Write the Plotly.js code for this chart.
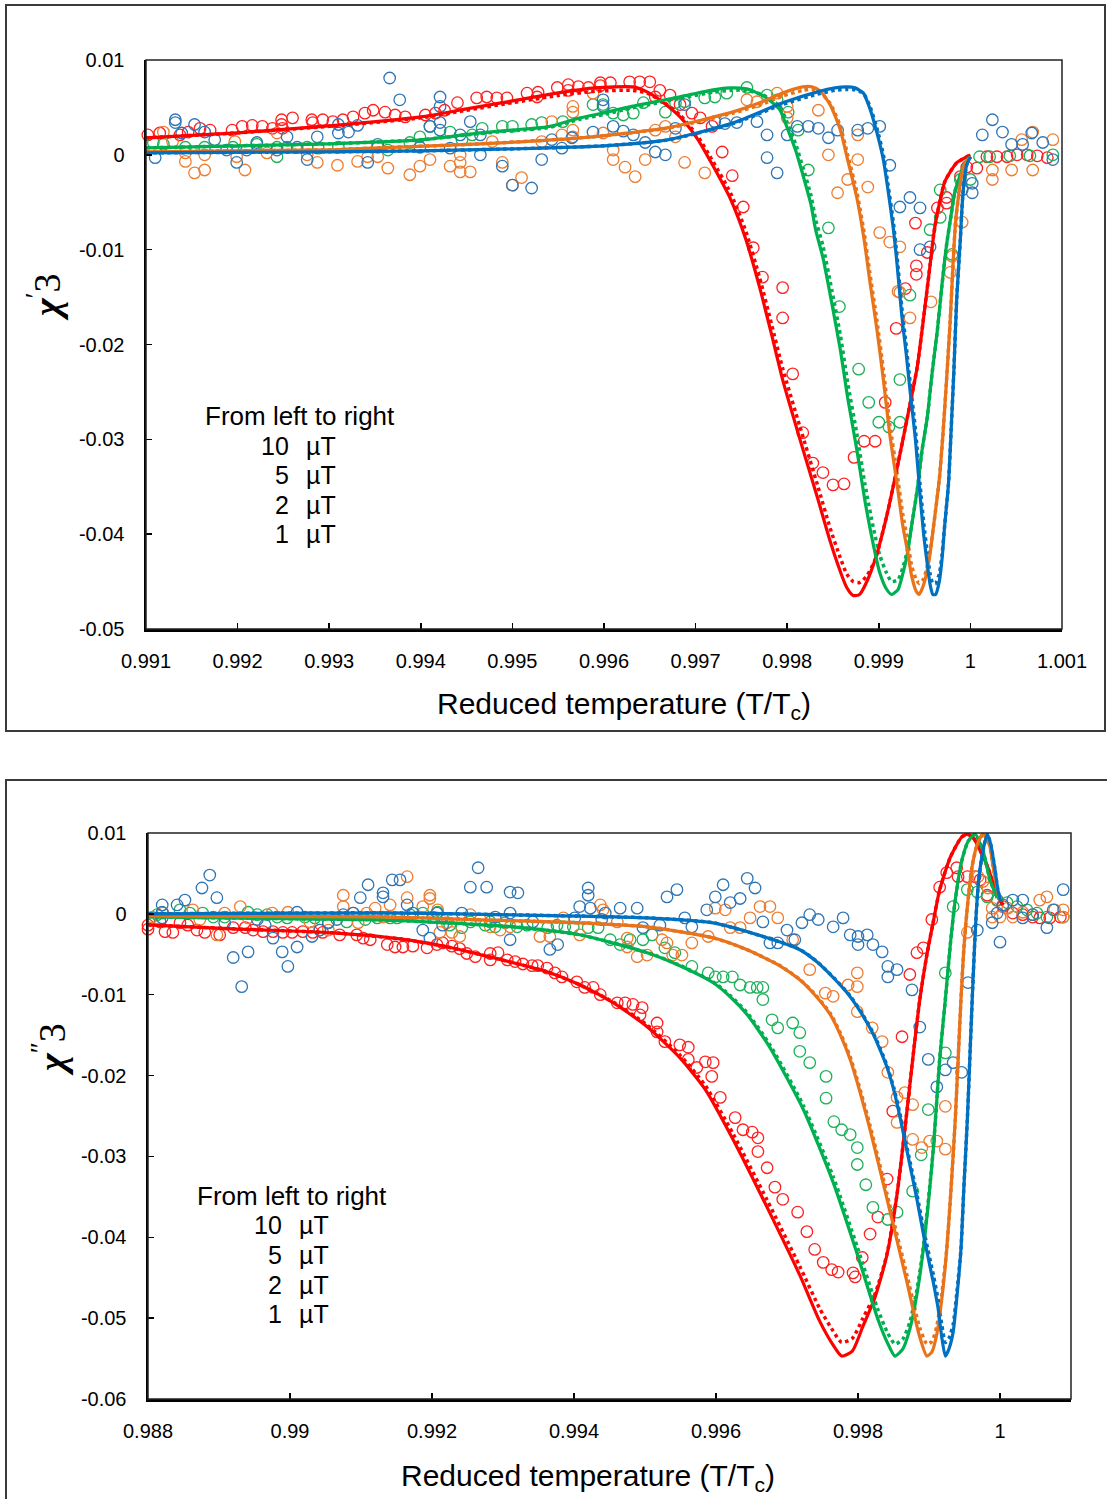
<!DOCTYPE html>
<html>
<head>
<meta charset="utf-8">
<script src="https://cdn.plot.ly/plotly-3.0.1.min.js"></script>
<style>
html,body{margin:0;padding:0;background:#fff;}
#chart{width:1107px;height:1499px;}
</style>
</head>
<body>
<div id="chart"></div>
<script>
// ---------------- DATA ----------------
const seriesNames = ["10 µT", "5 µT", "2 µT", "1 µT"];
const legendNumbers = ["10", "5", "2", "1"];
const legendUnit = "µT";
const legendHeader = "From left to right";

const topXTickVals = [0.991,0.992,0.993,0.994,0.995,0.996,0.997,0.998,0.999,1,1.001];
const topXTickText = ["0.991","0.992","0.993","0.994","0.995","0.996","0.997","0.998","0.999","1","1.001"];
const topYTickVals = [0.01,0,-0.01,-0.02,-0.03,-0.04,-0.05];
const topYTickText = ["0.01","0","-0.01","-0.02","-0.03","-0.04","-0.05"];
const botXTickVals = [0.988,0.99,0.992,0.994,0.996,0.998,1];
const botXTickText = ["0.988","0.99","0.992","0.994","0.996","0.998","1"];
const botYTickVals = [0.01,0,-0.01,-0.02,-0.03,-0.04,-0.05,-0.06];
const botYTickText = ["0.01","0","-0.01","-0.02","-0.03","-0.04","-0.05","-0.06"];

// ----- Top panel (chi'3): measured points [T/Tc, value]
const top10 = [[0.99102,0.0021],[0.99115,0.0023],[0.99137,0.0021],[0.99146,0.0024],[0.99159,0.0028],[0.99170,0.0026],[0.99194,0.0026],[0.99205,0.0030],[0.99216,0.0031],[0.99227,0.0030],[0.99238,0.0028],[0.99248,0.0037],[0.99248,0.0032],[0.99249,0.0028],[0.99260,0.0039],[0.99281,0.0037],[0.99282,0.0034],[0.99293,0.0037],[0.99304,0.0035],[0.99315,0.0037],[0.99326,0.0040],[0.99339,0.0044],[0.99348,0.0047],[0.99361,0.0045],[0.99372,0.0042],[0.99383,0.0040],[0.99405,0.0042],[0.99416,0.0044],[0.99426,0.0047],[0.99440,0.0055],[0.99461,0.0060],[0.99472,0.0061],[0.99483,0.0060],[0.99494,0.0060],[0.99516,0.0065],[0.99527,0.0061],[0.99528,0.0066],[0.99549,0.0071],[0.99561,0.0074],[0.99561,0.0068],[0.99572,0.0072],[0.99583,0.0071],[0.99596,0.0076],[0.99596,0.0073],[0.99607,0.0076],[0.99628,0.0077],[0.99639,0.0077],[0.99650,0.0077],[0.99656,0.0061],[0.99661,0.0068],[0.99672,0.0063],[0.99683,0.0053],[0.99696,0.0044],[0.99705,0.0039],[0.99718,0.0030],[0.99729,0.0003],[0.99740,-0.0022],[0.99752,-0.0055],[0.99763,-0.0098],[0.99773,-0.0129],[0.99795,-0.0140],[0.99795,-0.0172],[0.99806,-0.0231],[0.99817,-0.0293],[0.99828,-0.0325],[0.99839,-0.0335],[0.99850,-0.0348],[0.99862,-0.0347],[0.99873,-0.0319],[0.99884,-0.0302],[0.99896,-0.0302],[0.99907,-0.0261],[0.99919,-0.0183],[0.99929,-0.0141],[0.99940,-0.0072],[0.99941,-0.0117],[0.99941,-0.0126],[0.99953,-0.0103],[0.99964,-0.0056],[0.99974,-0.0045],[0.99974,-0.0051],[0.99989,-0.0023],[0.99996,-0.0013],[1.00007,-0.0014],[1.00018,-0.0002],[1.00029,-0.0002],[1.00040,-0.0002],[1.00051,0.0000],[1.00062,0.0000],[1.00073,-0.0001],[1.00084,-0.0003]];
const top5 = [[0.99108,0.0013],[0.99119,0.0011],[0.99143,0.0008],[0.99164,0.0008],[0.99195,0.0008],[0.99221,0.0011],[0.99243,0.0008],[0.99243,-0.0002],[0.99254,0.0008],[0.99276,0.0008],[0.99288,0.0007],[0.99310,0.0008],[0.99353,0.0008],[0.99364,0.0005],[0.99388,0.0013],[0.99399,0.0019],[0.99410,0.0030],[0.99432,0.0024],[0.99445,0.0016],[0.99456,0.0021],[0.99467,0.0028],[0.99489,0.0030],[0.99500,0.0030],[0.99521,0.0032],[0.99532,0.0034],[0.99555,0.0035],[0.99588,0.0053],[0.99599,0.0053],[0.99610,0.0044],[0.99621,0.0042],[0.99632,0.0044],[0.99643,0.0055],[0.99667,0.0045],[0.99678,0.0055],[0.99688,0.0056],[0.99710,0.0060],[0.99721,0.0061],[0.99734,0.0065],[0.99756,0.0071],[0.99778,0.0063],[0.99789,0.0058],[0.99801,0.0045],[0.99812,0.0026],[0.99823,-0.0016],[0.99845,-0.0077],[0.99857,-0.0160],[0.99878,-0.0226],[0.99889,-0.0261],[0.99900,-0.0282],[0.99911,-0.0287],[0.99923,-0.0282],[0.99923,-0.0237],[0.99934,-0.0148],[0.99956,-0.0079],[0.99967,-0.0066],[0.99967,-0.0037],[0.99980,-0.0105],[0.99989,-0.0026],[1.00000,-0.0026],[1.00010,-0.0002],[1.00021,-0.0002],[1.00043,-0.0001],[1.00065,-0.0001],[1.00090,0.0000]];
const top2 = [[0.99119,0.0024],[0.99129,0.0014],[0.99143,0.0002],[0.99143,-0.0007],[0.99153,-0.0019],[0.99164,-0.0016],[0.99164,0.0000],[0.99197,0.0014],[0.99199,-0.0002],[0.99208,-0.0016],[0.99232,0.0002],[0.99243,0.0023],[0.99276,0.0000],[0.99287,-0.0008],[0.99309,-0.0011],[0.99331,-0.0007],[0.99342,-0.0002],[0.99353,-0.0002],[0.99364,-0.0014],[0.99388,-0.0021],[0.99399,-0.0012],[0.99410,-0.0005],[0.99432,-0.0012],[0.99443,0.0000],[0.99443,-0.0008],[0.99443,-0.0018],[0.99454,-0.0018],[0.99478,0.0014],[0.99489,-0.0008],[0.99500,-0.0032],[0.99510,-0.0024],[0.99532,0.0014],[0.99543,0.0035],[0.99554,0.0021],[0.99566,0.0051],[0.99566,0.0045],[0.99566,0.0026],[0.99566,0.0019],[0.99588,0.0065],[0.99599,0.0023],[0.99610,0.0005],[0.99610,-0.0005],[0.99623,-0.0013],[0.99634,-0.0023],[0.99645,-0.0005],[0.99656,0.0026],[0.99667,0.0030],[0.99678,0.0019],[0.99688,-0.0008],[0.99710,-0.0019],[0.99756,0.0058],[0.99767,0.0056],[0.99789,0.0065],[0.99800,0.0051],[0.99800,0.0039],[0.99834,0.0047],[0.99845,0.0000],[0.99855,-0.0040],[0.99866,-0.0026],[0.99877,0.0021],[0.99877,-0.0005],[0.99888,-0.0034],[0.99901,-0.0082],[0.99912,-0.0092],[0.99921,-0.0144],[0.99923,-0.0097],[0.99923,-0.0145],[0.99934,-0.0172],[0.99957,-0.0155],[0.99978,-0.0124],[0.99980,-0.0107],[0.99991,-0.0071],[1.00024,-0.0016],[1.00024,-0.0026],[1.00045,-0.0016],[1.00056,0.0016],[1.00068,0.0024],[1.00068,-0.0016],[1.00090,0.0016]];
const top1 = [[0.99110,-0.0003],[0.99132,0.0037],[0.99132,0.0034],[0.99139,0.0023],[0.99153,0.0032],[0.99164,0.0024],[0.99175,0.0016],[0.99188,0.0005],[0.99199,-0.0008],[0.99210,0.0005],[0.99221,0.0013],[0.99243,0.0005],[0.99254,0.0019],[0.99265,0.0008],[0.99276,-0.0005],[0.99287,0.0019],[0.99310,0.0023],[0.99310,0.0032],[0.99321,0.0024],[0.99331,0.0031],[0.99342,-0.0008],[0.99353,0.0011],[0.99366,0.0081],[0.99377,0.0058],[0.99399,0.0008],[0.99410,0.0030],[0.99421,0.0061],[0.99421,0.0051],[0.99421,0.0034],[0.99421,0.0026],[0.99432,0.0007],[0.99443,0.0021],[0.99454,0.0035],[0.99465,0.0021],[0.99465,0.0000],[0.99489,-0.0012],[0.99500,-0.0032],[0.99521,-0.0035],[0.99532,-0.0005],[0.99543,0.0016],[0.99554,0.0007],[0.99565,0.0018],[0.99588,0.0024],[0.99599,0.0058],[0.99599,0.0051],[0.99610,0.0030],[0.99621,0.0025],[0.99632,0.0021],[0.99645,0.0013],[0.99656,0.0003],[0.99667,0.0000],[0.99678,0.0028],[0.99688,0.0053],[0.99721,0.0035],[0.99732,0.0033],[0.99745,0.0034],[0.99767,0.0035],[0.99778,0.0021],[0.99778,-0.0003],[0.99789,-0.0019],[0.99800,0.0021],[0.99811,0.0030],[0.99823,0.0030],[0.99834,0.0028],[0.99845,0.0018],[0.99855,0.0026],[0.99877,0.0026],[0.99888,0.0028],[0.99901,0.0030],[0.99912,-0.0011],[0.99923,-0.0055],[0.99934,-0.0045],[0.99945,-0.0056],[0.99945,-0.0100],[0.99956,-0.0097],[0.99991,-0.0037],[1.00002,-0.0030],[1.00002,-0.0040],[1.00013,0.0021],[1.00024,0.0037],[1.00035,0.0024],[1.00045,0.0011],[1.00057,0.0011],[1.00067,0.0023],[1.00079,0.0013],[1.00090,-0.0005]];

// ----- Top panel fits: solid [T/Tc, value]; dotted values on the same T grid
const topFit10 = [[0.99100,0.00179],[0.99200,0.00232],[0.99300,0.00306],[0.99400,0.00400],[0.99450,0.00485],[0.99500,0.00569],[0.99550,0.00653],[0.99590,0.00706],[0.99631,0.00717],[0.99647,0.00664],[0.99664,0.00558],[0.99683,0.00400],[0.99702,0.00169],[0.99719,-0.00116],[0.99738,-0.00464],[0.99755,-0.00896],[0.99770,-0.01401],[0.99783,-0.01897],[0.99795,-0.02371],[0.99814,-0.03003],[0.99833,-0.03614],[0.99847,-0.04078],[0.99858,-0.04394],[0.99865,-0.04563],[0.99872,-0.04647],[0.99879,-0.04636],[0.99887,-0.04499],[0.99896,-0.04268],[0.99909,-0.03793],[0.99923,-0.03161],[0.99934,-0.02634],[0.99942,-0.02234],[0.99950,-0.01633],[0.99956,-0.01159],[0.99961,-0.00769],[0.99967,-0.00474],[0.99972,-0.00285],[0.99978,-0.00179],[0.99985,-0.00084],[0.99994,-0.00032],[1.00000,0.00000]];
const topDot10 = [0.00179,0.00232,0.00300,0.00390,0.00470,0.00550,0.00625,0.00670,0.00680,0.00650,0.00560,0.00420,0.00200,-0.00070,-0.00400,-0.00810,-0.01300,-0.01790,-0.02250,-0.02870,-0.03480,-0.03940,-0.04250,-0.04420,-0.04500,-0.04510,-0.04440,-0.04268,-0.03793,-0.03161,-0.02634,-0.02234,-0.01633,-0.01159,-0.00769,-0.00474,-0.00285,-0.00179,-0.00084,-0.00032,0.00000];
const topFit5 = [[0.99100,0.00074],[0.99200,0.00095],[0.99300,0.00116],[0.99355,0.00137],[0.99400,0.00158],[0.99465,0.00232],[0.99501,0.00263],[0.99538,0.00295],[0.99574,0.00390],[0.99600,0.00443],[0.99628,0.00506],[0.99650,0.00548],[0.99683,0.00611],[0.99719,0.00685],[0.99738,0.00706],[0.99756,0.00695],[0.99774,0.00622],[0.99783,0.00558],[0.99792,0.00474],[0.99800,0.00285],[0.99809,0.00053],[0.99818,-0.00242],[0.99826,-0.00527],[0.99831,-0.00790],[0.99839,-0.01085],[0.99849,-0.01581],[0.99858,-0.02055],[0.99866,-0.02561],[0.99876,-0.03109],[0.99885,-0.03656],[0.99894,-0.04110],[0.99901,-0.04405],[0.99908,-0.04573],[0.99914,-0.04636],[0.99921,-0.04584],[0.99926,-0.04426],[0.99931,-0.04215],[0.99936,-0.03899],[0.99942,-0.03530],[0.99947,-0.03130],[0.99953,-0.02761],[0.99958,-0.02318],[0.99964,-0.01844],[0.99969,-0.01370],[0.99974,-0.00948],[0.99979,-0.00632],[0.99983,-0.00390],[0.99989,-0.00211],[0.99994,-0.00084],[1.00000,-0.00021]];
const topDot5 = [0.00074,0.00095,0.00116,0.00137,0.00158,0.00225,0.00255,0.00285,0.00375,0.00425,0.00490,0.00530,0.00595,0.00660,0.00680,0.00680,0.00630,0.00580,0.00510,0.00340,0.00120,-0.00160,-0.00430,-0.00680,-0.00960,-0.01440,-0.01900,-0.02400,-0.02940,-0.03480,-0.03930,-0.04220,-0.04400,-0.04500,-0.04480,-0.04360,-0.04180,-0.03899,-0.03530,-0.03130,-0.02761,-0.02318,-0.01844,-0.01370,-0.00948,-0.00632,-0.00390,-0.00211,-0.00084,-0.00021];
const topFit2 = [[0.99100,0.00032],[0.99200,0.00042],[0.99300,0.00053],[0.99355,0.00074],[0.99465,0.00116],[0.99574,0.00179],[0.99669,0.00285],[0.99741,0.00453],[0.99770,0.00548],[0.99795,0.00653],[0.99817,0.00717],[0.99827,0.00717],[0.99836,0.00674],[0.99847,0.00527],[0.99858,0.00263],[0.99866,-0.00053],[0.99876,-0.00453],[0.99884,-0.00896],[0.99890,-0.01317],[0.99898,-0.01844],[0.99905,-0.02371],[0.99912,-0.02950],[0.99920,-0.03477],[0.99926,-0.03899],[0.99932,-0.04215],[0.99936,-0.04447],[0.99941,-0.04605],[0.99944,-0.04636],[0.99949,-0.04531],[0.99955,-0.04268],[0.99960,-0.03899],[0.99966,-0.03425],[0.99970,-0.02950],[0.99974,-0.02371],[0.99978,-0.01739],[0.99981,-0.01159],[0.99984,-0.00685],[0.99988,-0.00369],[0.99991,-0.00179],[0.99995,-0.00074],[1.00000,-0.00021]];
const topDot2 = [0.00032,0.00042,0.00053,0.00074,0.00116,0.00179,0.00280,0.00440,0.00525,0.00620,0.00680,0.00690,0.00660,0.00540,0.00300,0.00000,-0.00390,-0.00820,-0.01230,-0.01750,-0.02270,-0.02840,-0.03360,-0.03780,-0.04100,-0.04340,-0.04480,-0.04520,-0.04470,-0.04240,-0.03899,-0.03425,-0.02950,-0.02371,-0.01739,-0.01159,-0.00685,-0.00369,-0.00179,-0.00074,-0.00021];
const topFit1 = [[0.99100,0.00021],[0.99300,0.00032],[0.99400,0.00042],[0.99501,0.00063],[0.99600,0.00095],[0.99669,0.00158],[0.99741,0.00337],[0.99795,0.00548],[0.99833,0.00664],[0.99852,0.00706],[0.99865,0.00717],[0.99874,0.00706],[0.99883,0.00653],[0.99890,0.00495],[0.99898,0.00232],[0.99905,-0.00053],[0.99910,-0.00369],[0.99916,-0.00790],[0.99920,-0.01159],[0.99925,-0.01686],[0.99930,-0.02107],[0.99934,-0.02476],[0.99940,-0.03003],[0.99945,-0.03583],[0.99949,-0.04004],[0.99953,-0.04320],[0.99956,-0.04531],[0.99959,-0.04636],[0.99962,-0.04636],[0.99966,-0.04500],[0.99969,-0.04268],[0.99972,-0.03899],[0.99976,-0.03477],[0.99979,-0.02898],[0.99982,-0.02266],[0.99985,-0.01528],[0.99989,-0.00896],[0.99991,-0.00527],[0.99993,-0.00295],[0.99996,-0.00105],[1.00000,-0.00021]];
const topDot1 = [0.00021,0.00032,0.00042,0.00063,0.00095,0.00155,0.00330,0.00530,0.00640,0.00680,0.00690,0.00685,0.00650,0.00520,0.00280,0.00000,-0.00310,-0.00720,-0.01080,-0.01600,-0.02020,-0.02380,-0.02900,-0.03470,-0.03880,-0.04200,-0.04420,-0.04520,-0.04520,-0.04420,-0.04220,-0.03899,-0.03477,-0.02898,-0.02266,-0.01528,-0.00896,-0.00527,-0.00295,-0.00105,-0.00021];

// ----- Bottom panel (chi''3): measured points
const bot10 = [[0.98800,-0.0014],[0.98800,-0.0019],[0.98817,-0.0010],[0.98824,-0.0022],[0.98835,-0.0023],[0.98845,-0.0011],[0.98856,-0.0014],[0.98869,-0.0020],[0.98880,-0.0023],[0.98901,-0.0026],[0.98920,-0.0017],[0.98937,-0.0017],[0.98948,-0.0020],[0.98962,-0.0022],[0.98976,-0.0022],[0.98990,-0.0023],[0.99003,-0.0023],[0.99018,-0.0022],[0.99032,-0.0023],[0.99046,-0.0023],[0.99070,-0.0026],[0.99094,-0.0026],[0.99103,-0.0030],[0.99113,-0.0032],[0.99137,-0.0038],[0.99148,-0.0041],[0.99159,-0.0041],[0.99173,-0.0040],[0.99193,-0.0042],[0.99207,-0.0038],[0.99215,-0.0036],[0.99228,-0.0040],[0.99239,-0.0043],[0.99249,-0.0049],[0.99261,-0.0053],[0.99282,-0.0049],[0.99282,-0.0057],[0.99293,-0.0048],[0.99306,-0.0057],[0.99317,-0.0059],[0.99328,-0.0062],[0.99341,-0.0064],[0.99349,-0.0064],[0.99362,-0.0067],[0.99373,-0.0073],[0.99383,-0.0078],[0.99404,-0.0084],[0.99415,-0.0091],[0.99427,-0.0091],[0.99437,-0.0100],[0.99461,-0.0110],[0.99472,-0.0110],[0.99483,-0.0112],[0.99496,-0.0116],[0.99493,-0.0125],[0.99517,-0.0135],[0.99517,-0.0146],[0.99528,-0.0158],[0.99549,-0.0162],[0.99561,-0.0165],[0.99561,-0.0180],[0.99573,-0.0190],[0.99585,-0.0183],[0.99596,-0.0184],[0.99594,-0.0201],[0.99606,-0.0227],[0.99627,-0.0252],[0.99638,-0.0267],[0.99651,-0.0270],[0.99659,-0.0277],[0.99659,-0.0294],[0.99672,-0.0314],[0.99683,-0.0338],[0.99694,-0.0353],[0.99715,-0.0369],[0.99728,-0.0393],[0.99739,-0.0415],[0.99751,-0.0431],[0.99763,-0.0440],[0.99772,-0.0443],[0.99793,-0.0444],[0.99796,-0.0449],[0.99806,-0.0425],[0.99817,-0.0396],[0.99828,-0.0375],[0.99841,-0.0328],[0.99849,-0.0244],[0.99862,-0.0152],[0.99873,-0.0075],[0.99883,-0.0048],[0.99892,-0.0042],[0.99904,-0.0007],[0.99915,0.0033],[0.99925,0.0051],[0.99939,0.0057],[0.99941,0.0046],[0.99954,0.0046],[0.99965,0.0046],[0.99972,0.0042],[0.99982,0.0023],[0.99996,0.0017],[1.00004,0.0009],[1.00018,0.0001],[1.00032,-0.0001],[1.00046,-0.0004],[1.00056,-0.0005],[1.00070,-0.0005],[1.00085,-0.0004]];
const bot5 = [[0.98813,-0.0001],[0.98845,0.0005],[0.98859,0.0001],[0.98877,0.0001],[0.98892,-0.0004],[0.98908,-0.0004],[0.98941,0.0002],[0.98954,-0.0001],[0.98968,-0.0001],[0.98982,-0.0004],[0.98996,-0.0005],[0.99021,-0.0004],[0.99035,-0.0005],[0.99054,-0.0011],[0.99080,-0.0010],[0.99106,-0.0007],[0.99123,-0.0005],[0.99141,-0.0005],[0.99151,-0.0005],[0.99169,-0.0001],[0.99187,0.0001],[0.99201,-0.0004],[0.99208,0.0002],[0.99215,-0.0005],[0.99225,-0.0014],[0.99242,-0.0017],[0.99254,-0.0010],[0.99275,-0.0014],[0.99282,-0.0010],[0.99289,-0.0016],[0.99303,-0.0011],[0.99320,-0.0016],[0.99334,-0.0014],[0.99363,-0.0017],[0.99376,-0.0014],[0.99387,-0.0016],[0.99399,-0.0016],[0.99420,-0.0017],[0.99434,-0.0017],[0.99451,-0.0032],[0.99465,-0.0038],[0.99479,-0.0032],[0.99497,-0.0032],[0.99510,-0.0026],[0.99528,-0.0042],[0.99542,-0.0048],[0.99566,-0.0065],[0.99589,-0.0073],[0.99599,-0.0078],[0.99610,-0.0078],[0.99623,-0.0078],[0.99634,-0.0088],[0.99648,-0.0091],[0.99658,-0.0091],[0.99666,-0.0091],[0.99666,-0.0106],[0.99679,-0.0131],[0.99687,-0.0141],[0.99708,-0.0135],[0.99718,-0.0147],[0.99718,-0.0170],[0.99732,-0.0184],[0.99755,-0.0201],[0.99755,-0.0228],[0.99766,-0.0257],[0.99777,-0.0267],[0.99789,-0.0273],[0.99799,-0.0289],[0.99799,-0.0310],[0.99811,-0.0335],[0.99821,-0.0363],[0.99842,-0.0378],[0.99855,-0.0369],[0.99877,-0.0343],[0.99889,-0.0298],[0.99899,-0.0242],[0.99923,-0.0172],[0.99923,-0.0073],[0.99934,0.0009],[0.99954,0.0030],[0.99968,0.0027],[0.99982,0.0021],[0.99996,0.0017],[1.00010,0.0014],[1.00024,0.0009],[1.00038,0.0005],[1.00052,0.0001],[1.00066,-0.0004],[1.00089,-0.0004]];
const bot2 = [[0.98806,-0.0004],[0.98821,0.0001],[0.98863,0.0005],[0.98873,-0.0007],[0.98897,-0.0026],[0.98908,0.0001],[0.98930,0.0009],[0.98941,-0.0005],[0.98975,0.0001],[0.98997,0.0002],[0.99028,-0.0010],[0.99042,-0.0020],[0.99054,-0.0020],[0.99075,0.0023],[0.99075,0.0009],[0.99089,0.0001],[0.99096,-0.0011],[0.99108,0.0001],[0.99120,0.0007],[0.99131,-0.0004],[0.99141,0.0011],[0.99165,0.0046],[0.99165,0.0020],[0.99187,0.0009],[0.99197,0.0023],[0.99197,0.0019],[0.99208,0.0005],[0.99211,-0.0023],[0.99221,-0.0011],[0.99228,-0.0023],[0.99239,-0.0028],[0.99254,-0.0001],[0.99268,-0.0007],[0.99282,-0.0016],[0.99296,-0.0020],[0.99310,-0.0016],[0.99352,-0.0028],[0.99366,-0.0028],[0.99385,-0.0005],[0.99408,-0.0026],[0.99437,0.0011],[0.99441,0.0005],[0.99461,-0.0010],[0.99475,-0.0030],[0.99475,-0.0041],[0.99489,-0.0053],[0.99503,-0.0051],[0.99524,-0.0032],[0.99531,-0.0036],[0.99539,-0.0051],[0.99552,-0.0051],[0.99566,-0.0036],[0.99589,-0.0028],[0.99599,0.0007],[0.99613,0.0005],[0.99620,-0.0017],[0.99634,-0.0017],[0.99648,-0.0005],[0.99662,0.0009],[0.99676,0.0009],[0.99687,-0.0005],[0.99708,-0.0032],[0.99732,-0.0069],[0.99754,-0.0098],[0.99765,-0.0102],[0.99786,-0.0088],[0.99799,-0.0073],[0.99799,-0.0090],[0.99799,-0.0121],[0.99820,-0.0141],[0.99834,-0.0158],[0.99842,-0.0196],[0.99855,-0.0227],[0.99855,-0.0258],[0.99866,-0.0221],[0.99877,-0.0236],[0.99877,-0.0279],[0.99890,-0.0289],[0.99901,-0.0281],[0.99911,-0.0281],[0.99923,-0.0291],[0.99923,-0.0238],[0.99954,-0.0023],[0.99969,0.0046],[0.99976,0.0040],[0.99983,0.0032],[0.99989,0.0007],[0.99989,-0.0004],[1.00000,-0.0004],[1.00011,0.0007],[1.00018,-0.0004],[1.00032,0.0002],[1.00046,-0.0001],[1.00056,0.0017],[1.00066,0.0021],[1.00077,0.0005],[1.00089,0.0005],[1.00089,-0.0004]];
const bot1 = [[0.98820,0.0011],[0.98820,0.0002],[0.98820,-0.0005],[0.98841,0.0011],[0.98852,0.0017],[0.98876,0.0032],[0.98887,0.0048],[0.98897,0.0020],[0.98908,-0.0011],[0.98920,-0.0054],[0.98932,-0.0090],[0.98941,-0.0047],[0.98954,-0.0007],[0.98965,-0.0014],[0.98976,-0.0030],[0.98989,-0.0047],[0.98997,-0.0065],[0.99010,-0.0041],[0.99010,0.0002],[0.99031,-0.0028],[0.99042,-0.0020],[0.99054,-0.0011],[0.99066,-0.0007],[0.99075,-0.0001],[0.99089,0.0001],[0.99099,0.0020],[0.99110,0.0036],[0.99131,0.0026],[0.99131,0.0021],[0.99144,0.0042],[0.99155,0.0042],[0.99165,0.0011],[0.99173,0.0001],[0.99187,-0.0020],[0.99197,-0.0030],[0.99207,0.0001],[0.99215,-0.0014],[0.99242,0.0001],[0.99254,0.0033],[0.99265,0.0057],[0.99277,0.0033],[0.99289,-0.0004],[0.99310,0.0001],[0.99310,0.0027],[0.99321,0.0026],[0.99310,-0.0032],[0.99342,-0.0010],[0.99366,-0.0044],[0.99377,-0.0038],[0.99401,-0.0005],[0.99408,0.0009],[0.99420,0.0032],[0.99420,0.0023],[0.99423,0.0007],[0.99439,-0.0007],[0.99444,0.0001],[0.99465,0.0007],[0.99489,0.0007],[0.99497,-0.0017],[0.99521,-0.0014],[0.99531,0.0021],[0.99545,0.0030],[0.99556,-0.0005],[0.99566,-0.0016],[0.99587,0.0005],[0.99599,0.0021],[0.99610,0.0036],[0.99620,0.0014],[0.99634,0.0019],[0.99644,0.0044],[0.99655,0.0032],[0.99666,-0.0010],[0.99676,-0.0036],[0.99687,-0.0036],[0.99700,-0.0020],[0.99711,-0.0032],[0.99721,-0.0011],[0.99732,-0.0001],[0.99744,-0.0007],[0.99765,-0.0016],[0.99779,-0.0005],[0.99789,-0.0026],[0.99800,-0.0028],[0.99800,-0.0038],[0.99813,-0.0026],[0.99821,-0.0038],[0.99834,-0.0047],[0.99842,-0.0065],[0.99842,-0.0078],[0.99855,-0.0069],[0.99876,-0.0094],[0.99887,-0.0140],[0.99899,-0.0180],[0.99911,-0.0214],[0.99923,-0.0193],[0.99934,-0.0184],[0.99946,-0.0196],[0.99955,-0.0085],[0.99968,-0.0020],[0.99989,-0.0011],[1.00000,-0.0035],[0.99996,0.0001],[1.00004,0.0011],[1.00018,0.0017],[1.00032,0.0017],[1.00032,-0.0005],[1.00046,-0.0001],[1.00066,-0.0017],[1.00075,0.0005],[1.00089,0.0030]];

// ----- Bottom panel fits
const botFit10 = [[0.98800,-0.00136],[0.98920,-0.00185],[0.99061,-0.00235],[0.99155,-0.00309],[0.99221,-0.00407],[0.99292,-0.00556],[0.99362,-0.00716],[0.99408,-0.00877],[0.99455,-0.01099],[0.99503,-0.01395],[0.99549,-0.01778],[0.99585,-0.02173],[0.99624,-0.02790],[0.99672,-0.03630],[0.99718,-0.04469],[0.99746,-0.05037],[0.99765,-0.05333],[0.99777,-0.05469],[0.99792,-0.05407],[0.99807,-0.05099],[0.99824,-0.04741],[0.99841,-0.04210],[0.99855,-0.03469],[0.99866,-0.02667],[0.99877,-0.01802],[0.99887,-0.01062],[0.99897,-0.00506],[0.99906,-0.00099],[0.99915,0.00296],[0.99930,0.00700],[0.99946,0.00950],[0.99954,0.00985],[0.99962,0.00945],[0.99982,0.00593],[0.99996,0.00235],[1.00004,0.00111]];
const botDot10 = [-0.00136,-0.00185,-0.00235,-0.00309,-0.00407,-0.00556,-0.00716,-0.00877,-0.01090,-0.01375,-0.01745,-0.02125,-0.02720,-0.03540,-0.04360,-0.04880,-0.05160,-0.05300,-0.05250,-0.05000,-0.04700,-0.04200,-0.03469,-0.02667,-0.01802,-0.01062,-0.00506,-0.00099,0.00296,0.00700,0.00950,0.00985,0.00945,0.00593,0.00235,0.00111];
const botFit5 = [[0.98800,-0.00037],[0.99014,-0.00062],[0.99127,-0.00074],[0.99221,-0.00111],[0.99314,-0.00160],[0.99408,-0.00259],[0.99503,-0.00481],[0.99549,-0.00642],[0.99596,-0.00852],[0.99620,-0.01025],[0.99644,-0.01247],[0.99676,-0.01654],[0.99723,-0.02420],[0.99765,-0.03321],[0.99799,-0.04210],[0.99827,-0.04988],[0.99841,-0.05296],[0.99852,-0.05469],[0.99863,-0.05383],[0.99873,-0.05136],[0.99883,-0.04704],[0.99892,-0.04148],[0.99906,-0.02914],[0.99915,-0.01802],[0.99923,-0.01062],[0.99930,-0.00383],[0.99937,0.00173],[0.99946,0.00650],[0.99955,0.00895],[0.99965,0.00985],[0.99976,0.00780],[0.99986,0.00420],[0.99996,0.00198]];
const botDot5 = [-0.00037,-0.00062,-0.00074,-0.00111,-0.00160,-0.00259,-0.00478,-0.00636,-0.00842,-0.01010,-0.01225,-0.01620,-0.02370,-0.03250,-0.04120,-0.04870,-0.05170,-0.05320,-0.05260,-0.05050,-0.04650,-0.04120,-0.02914,-0.01802,-0.01062,-0.00383,0.00173,0.00650,0.00895,0.00985,0.00780,0.00420,0.00198];
const botFit2 = [[0.98800,-0.00025],[0.99127,-0.00037],[0.99268,-0.00074],[0.99408,-0.00111],[0.99503,-0.00160],[0.99596,-0.00296],[0.99644,-0.00444],[0.99690,-0.00642],[0.99718,-0.00815],[0.99739,-0.01000],[0.99761,-0.01247],[0.99775,-0.01494],[0.99789,-0.01802],[0.99803,-0.02210],[0.99817,-0.02667],[0.99841,-0.03531],[0.99869,-0.04556],[0.99880,-0.04988],[0.99887,-0.05235],[0.99897,-0.05469],[0.99904,-0.05420],[0.99911,-0.05198],[0.99918,-0.04765],[0.99925,-0.04148],[0.99931,-0.03407],[0.99937,-0.02543],[0.99941,-0.01802],[0.99945,-0.01062],[0.99949,-0.00444],[0.99955,0.00173],[0.99961,0.00600],[0.99968,0.00860],[0.99976,0.00985],[0.99985,0.00860],[0.99990,0.00600],[0.99996,0.00296],[1.00000,0.00148]];
const botDot2 = [-0.00025,-0.00037,-0.00074,-0.00111,-0.00160,-0.00296,-0.00444,-0.00640,-0.00810,-0.00990,-0.01230,-0.01470,-0.01770,-0.02170,-0.02620,-0.03470,-0.04470,-0.04880,-0.05120,-0.05320,-0.05290,-0.05100,-0.04700,-0.04148,-0.03407,-0.02543,-0.01802,-0.01062,-0.00444,0.00173,0.00600,0.00860,0.00985,0.00860,0.00600,0.00296,0.00148];
const botFit1 = [[0.98800,0.00000],[0.99127,0.00012],[0.99314,-0.00012],[0.99503,-0.00049],[0.99596,-0.00111],[0.99672,-0.00296],[0.99718,-0.00444],[0.99742,-0.00593],[0.99768,-0.00815],[0.99789,-0.01025],[0.99806,-0.01247],[0.99821,-0.01481],[0.99831,-0.01679],[0.99841,-0.01901],[0.99851,-0.02198],[0.99859,-0.02506],[0.99870,-0.02975],[0.99883,-0.03531],[0.99894,-0.04049],[0.99906,-0.04556],[0.99913,-0.04889],[0.99918,-0.05235],[0.99923,-0.05469],[0.99928,-0.05383],[0.99934,-0.05173],[0.99939,-0.04765],[0.99945,-0.04148],[0.99949,-0.03407],[0.99954,-0.02543],[0.99958,-0.01679],[0.99962,-0.00815],[0.99966,-0.00074],[0.99970,0.00420],[0.99976,0.00780],[0.99982,0.00985],[0.99987,0.00860],[0.99993,0.00543],[0.99997,0.00296],[1.00001,0.00148]];
const botDot1 = [0.00000,0.00012,-0.00012,-0.00049,-0.00111,-0.00296,-0.00440,-0.00588,-0.00808,-0.01015,-0.01235,-0.01465,-0.01660,-0.01880,-0.02170,-0.02470,-0.02930,-0.03470,-0.03970,-0.04460,-0.04780,-0.05080,-0.05300,-0.05250,-0.05080,-0.04700,-0.04148,-0.03407,-0.02543,-0.01679,-0.00815,-0.00074,0.00420,0.00780,0.00985,0.00860,0.00543,0.00296,0.00148];

// ---------------- STYLE ----------------
const W = 1107, H = 1499;
const lineColors = ["#FF0000", "#00B050", "#E8731A", "#0070C0"];
const markColors = ["#FF2020", "#1DB15A", "#ED7D31", "#2E75B6"];
const FONT = "Liberation Sans, Arial, Helvetica, sans-serif";

const topPoints = [top10, top5, top2, top1];
const topFits = [topFit10, topFit5, topFit2, topFit1];
const topDots = [topDot10, topDot5, topDot2, topDot1];
const botPoints = [bot10, bot5, bot2, bot1];
const botFits = [botFit10, botFit5, botFit2, botFit1];
const botDots = [botDot10, botDot5, botDot2, botDot1];

const traces = [];
function addPanel(points, fits, dots, xa, ya) {
  for (let i = 0; i < 4; i++) {
    traces.push({
      type: "scatter", mode: "markers", xaxis: xa, yaxis: ya, name: seriesNames[i],
      x: points[i].map(p => p[0]), y: points[i].map(p => p[1]),
      cliponaxis: false,
      marker: {symbol: "circle-open", size: 11.5, color: markColors[i], line: {width: 1.3, color: markColors[i]}},
      hoverinfo: "skip"
    });
  }
  for (let i = 0; i < 4; i++) {
    traces.push({
      type: "scatter", mode: "lines", xaxis: xa, yaxis: ya, name: seriesNames[i] + " dotted",
      x: fits[i].map(p => p[0]), y: dots[i],
      line: {color: lineColors[i], width: 3.5, dash: "dot", shape: "spline", smoothing: 0.6},
      hoverinfo: "skip"
    });
  }
  for (let i = 0; i < 4; i++) {
    traces.push({
      type: "scatter", mode: "lines", xaxis: xa, yaxis: ya, name: seriesNames[i] + " fit",
      x: fits[i].map(p => p[0]), y: fits[i].map(p => p[1]),
      line: {color: lineColors[i], width: 3.2, shape: "spline", smoothing: 0.6},
      hoverinfo: "skip"
    });
  }
}
addPanel(topPoints, topFits, topDots, "x", "y");
addPanel(botPoints, botFits, botDots, "x2", "y2");

function px(x) { return x / W; }
function py(y) { return 1 - y / H; }

const axisCommon = {
  ticks: "inside", ticklen: 6, tickwidth: 1.5, tickcolor: "#000",
  showgrid: false, zeroline: false, showline: true, linewidth: 2.5, linecolor: "#000",
  tickfont: {family: FONT, size: 20, color: "#000"}, fixedrange: true
};

const layout = {
  width: W, height: H, margin: {l: 0, r: 0, t: 0, b: 0},
  paper_bgcolor: "#fff", plot_bgcolor: "rgba(0,0,0,0)", showlegend: false,
  font: {family: FONT, color: "#000"},
  xaxis: Object.assign({}, axisCommon, {domain: [px(146), px(1062)], range: [0.991, 1.001], anchor: "y",
    tickmode: "array", tickvals: topXTickVals, ticktext: topXTickText, ticklabelstandoff: 12}),
  yaxis: Object.assign({}, axisCommon, {domain: [py(629), py(60)], range: [-0.05, 0.01], anchor: "x",
    tickmode: "array", tickvals: topYTickVals, ticktext: topYTickText, ticklabelstandoff: 15}),
  xaxis2: Object.assign({}, axisCommon, {domain: [px(148), px(1071)], range: [0.988, 1.001], anchor: "y2",
    tickmode: "array", tickvals: botXTickVals, ticktext: botXTickText, ticklabelstandoff: 12}),
  yaxis2: Object.assign({}, axisCommon, {domain: [py(1399), py(833)], range: [-0.06, 0.01], anchor: "x2",
    tickmode: "array", tickvals: botYTickVals, ticktext: botYTickText, ticklabelstandoff: 15}),
  shapes: [
    {type: "rect", xref: "paper", yref: "paper", x0: px(146), x1: px(1062), y0: py(629), y1: py(60), line: {color: "#222", width: 1.5}},
    {type: "rect", xref: "paper", yref: "paper", x0: px(148), x1: px(1071), y0: py(1399), y1: py(833), line: {color: "#222", width: 1.5}},
    {type: "rect", xref: "paper", yref: "paper", x0: px(6), x1: px(1105), y0: py(731), y1: py(5), line: {color: "#3a3a3a", width: 2}},
    {type: "rect", xref: "paper", yref: "paper", x0: px(6), x1: 1.02, y0: -0.02, y1: py(780), line: {color: "#3a3a3a", width: 2}}
  ],
  annotations: []
};

const ann = layout.annotations;
function addText(text, x, y, size, xanchor, extra) {
  ann.push(Object.assign({xref: "paper", yref: "paper", x: px(x), y: py(y), text: text, showarrow: false,
    xanchor: xanchor || "center", yanchor: "middle", font: {family: FONT, size: size, color: "#000"}}, extra || {}));
}
// axis titles
addText("Reduced temperature (T/T<sub>c</sub>)", 624, 705, 30);
addText("Reduced temperature (T/T<sub>c</sub>)", 588, 1477, 30);
// y titles
ann.push({xref: "paper", yref: "paper", x: px(44), y: py(297), text: "<b><i>χ</i></b><sup>′</sup>3", showarrow: false,
  textangle: -90, xanchor: "center", yanchor: "middle", font: {family: "Liberation Serif, Times New Roman, serif", size: 38, color: "#000"}});
ann.push({xref: "paper", yref: "paper", x: px(49), y: py(1050), text: "<b><i>χ</i></b><sup>″</sup>3", showarrow: false,
  textangle: -90, xanchor: "center", yanchor: "middle", font: {family: "Liberation Serif, Times New Roman, serif", size: 38, color: "#000"}});
// legend text blocks
function addLegend(xHead, yHead, xNumRight, xUnitLeft, yLines) {
  addText(legendHeader, xHead, yHead, 26, "left");
  for (let i = 0; i < legendNumbers.length; i++) {
    addText(legendNumbers[i], xNumRight, yLines[i], 25, "right");
    addText(legendUnit, xUnitLeft, yLines[i], 25, "left");
  }
}
addLegend(203, 416, 291, 304, [446, 475, 505, 534]);
addLegend(195, 1196, 284, 297, [1225, 1255, 1285, 1314]);

Plotly.newPlot("chart", traces, layout, {staticPlot: true, displayModeBar: false});
</script>
</body>
</html>
